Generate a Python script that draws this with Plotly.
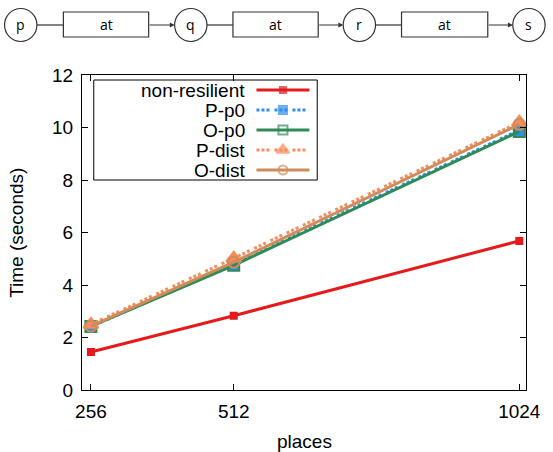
import plotly.graph_objects as go

# ---- data ----
places = [256, 512, 1024]
series_names = ["non-resilient", "P-p0", "O-p0", "P-dist", "O-dist"]
non_resilient = [1.45, 2.83, 5.68]
p_p0 = [2.42, 4.80, 9.90]
o_p0 = [2.42, 4.75, 9.85]
p_dist = [2.50, 5.02, 10.20]
o_dist = [2.43, 4.87, 10.12]
x_ticks = [256, 512, 1024]
y_ticks = [0, 2, 4, 6, 8, 10, 12]
diagram_nodes = ["p", "q", "r", "s"]
diagram_edge = "at"

W, H = 553, 452
L, R, T, B = 82, 18, 75, 62
PW, PH = W - L - R, H - T - B

def px(x):
    return (x - L) / PW

def py(y):
    return (H - B - y) / PH

FONT = "Liberation Sans, Arial, sans-serif"

styles = [
    dict(color="#e41a1c", dash="solid", symbol="square", size=6, lw=3),
    dict(color="#2f8cf0", dash="3px,2px,3px,2px,3px,5px", symbol="square", size=10, lw=3),
    dict(color="#2e8b57", dash="solid", symbol="square-open", size=11, lw=3),
    dict(color="#f98c5c", dash="3px,2px,3px,2px,3px,5px", symbol="triangle-up", size=13, lw=3),
    dict(color="#d08b5b", dash="solid", symbol="circle-open", size=11, lw=3),
]
values = [non_resilient, p_p0, o_p0, p_dist, o_dist]

fig = go.Figure()
for name, vals, st in zip(series_names, values, styles):
    fig.add_trace(go.Scatter(
        x=places, y=vals, name=name, mode="lines+markers",
        line=dict(color=st["color"], width=st["lw"], dash=st["dash"]),
        marker=dict(symbol=st["symbol"], size=st["size"], color=st["color"],
                    line=dict(color=st["color"], width=2)),
        showlegend=False, cliponaxis=False,
    ))

# ---- custom legend (gnuplot-style: text right-aligned, sample on the right) ----
leg_x0, leg_x1, leg_y0 = 94, 322, 80
row_h = 20
fig.add_shape(type="rect", xref="paper", yref="paper",
              x0=px(leg_x0), x1=px(leg_x1), y0=py(leg_y0), y1=py(leg_y0 + 100),
              line=dict(color="black", width=1), fillcolor="rgba(0,0,0,0)", layer="below")
for i, (name, st) in enumerate(zip(series_names, styles)):
    yc = leg_y0 + 10 + i * row_h
    fig.add_annotation(x=px(250), y=py(yc), xref="paper", yref="paper",
                       text=name, showarrow=False, xanchor="right", yanchor="middle",
                       font=dict(family=FONT, size=19, color="black"))
    fig.add_trace(go.Scatter(
        x=[260, 287, 314], y=[yc, yc, yc], xaxis="x2", yaxis="y2",
        mode="lines+markers",
        line=dict(color=st["color"], width=st["lw"], dash=st["dash"]),
        marker=dict(symbol=st["symbol"], size=[0, max(st["size"] - 2, 6), 0], color=st["color"],
                    line=dict(color=st["color"], width=2)),
        showlegend=False, hoverinfo="skip", cliponaxis=False,
    ))

# ---- top diagram ----
cy = 25
rad = 16.5
circle_cx = [19.5, 193, 365, 538]
boxes = [(63, 150), (236, 323), (408, 496)]
for cx, lab in zip(circle_cx, diagram_nodes):
    fig.add_shape(type="circle", xref="paper", yref="paper",
                  x0=px(cx - rad), x1=px(cx + rad), y0=py(cy + rad), y1=py(cy - rad),
                  line=dict(color="#333333", width=1.2))
    fig.add_annotation(x=px(cx), y=py(cy), xref="paper", yref="paper", text=lab,
                       showarrow=False, xanchor="center", yanchor="middle",
                       font=dict(family="Open Sans, sans-serif", size=14, color="black"))
for (bx0, bx1), cx_prev, cx_next in zip(boxes, circle_cx[:-1], circle_cx[1:]):
    fig.add_shape(type="rect", xref="paper", yref="paper",
                  x0=px(bx0), x1=px(bx1), y0=py(37), y1=py(12),
                  line=dict(color="#333333", width=1.2))
    fig.add_annotation(x=px((bx0 + bx1) / 2), y=py(24.5), xref="paper", yref="paper",
                       text=diagram_edge, showarrow=False, xanchor="center", yanchor="middle",
                       font=dict(family="Open Sans, sans-serif", size=14, color="black"))
    fig.add_shape(type="line", xref="paper", yref="paper",
                  x0=px(cx_prev + rad), x1=px(bx0), y0=py(cy), y1=py(cy),
                  line=dict(color="#333333", width=1.2))
    fig.add_annotation(x=px(cx_next - rad), y=py(cy), xref="paper", yref="paper",
                       ax=-(cx_next - rad - bx1), ay=0, axref="pixel", ayref="pixel",
                       text="", showarrow=True, arrowhead=2, arrowsize=0.8,
                       arrowwidth=1.2, arrowcolor="#333333", standoff=0)

# ---- axis titles ----
fig.add_annotation(x=px(15), y=0.5, xref="paper", yref="paper", text="Time (seconds)",
                   textangle=-90, showarrow=False, xanchor="center", yanchor="middle",
                   font=dict(family=FONT, size=19, color="black"))
fig.add_annotation(x=0.5, y=py(441), xref="paper", yref="paper", text="places",
                   showarrow=False, xanchor="center", yanchor="middle",
                   font=dict(family=FONT, size=19, color="black"))

axis_common = dict(showgrid=False, zeroline=False, showline=True, linecolor="black",
                   linewidth=1, mirror="ticks", ticks="inside", ticklen=6,
                   tickcolor="black", tickfont=dict(family=FONT, size=19, color="black"))
fig.update_layout(
    width=W, height=H,
    margin=dict(l=L, r=R, t=T, b=B),
    paper_bgcolor="white", plot_bgcolor="white",
    xaxis=dict(range=[240, 1036], tickvals=x_ticks, ticktext=[str(v) for v in x_ticks],
               ticklabelstandoff=4, **axis_common),
    yaxis=dict(range=[0, 12], tickvals=y_ticks, ticklabelstandoff=4, **axis_common),
    xaxis2=dict(overlaying="x", range=[L, W - R], visible=False),
    yaxis2=dict(overlaying="y", range=[H - B, T], visible=False),
)

fig.write_html("out.html")
